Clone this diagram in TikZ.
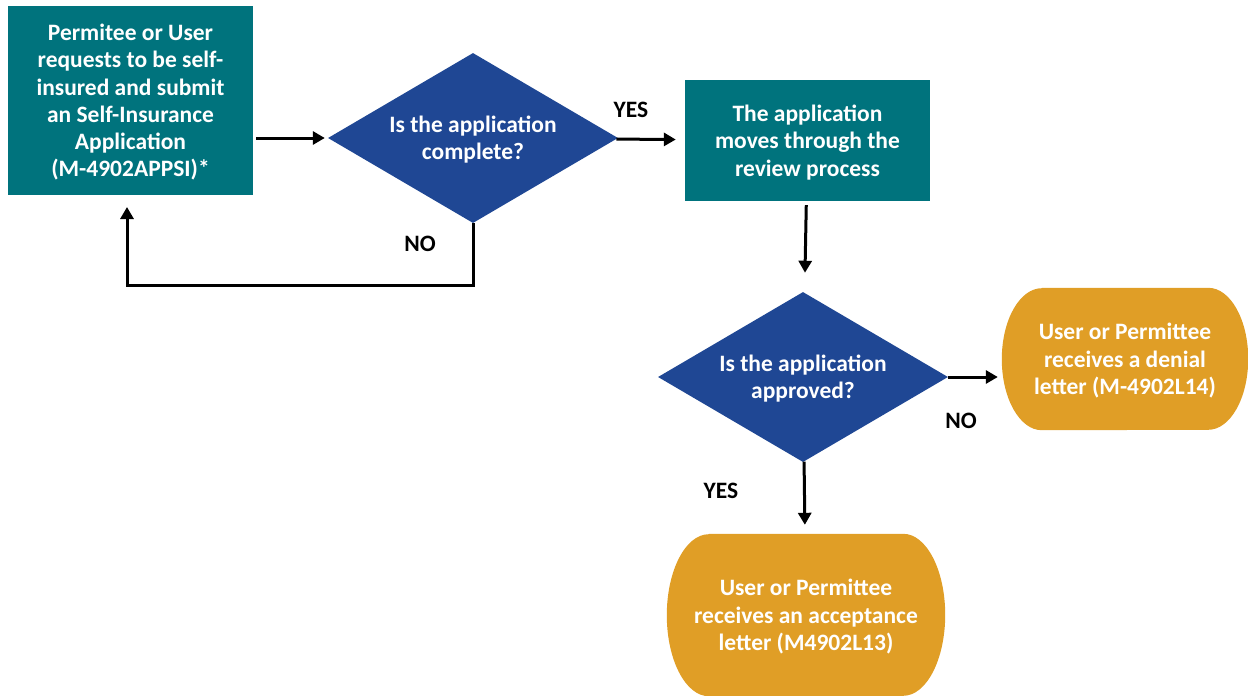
\documentclass[tikz,border=0pt]{standalone}
\usepackage{fontspec}
\setmainfont{Carlito}
\usetikzlibrary{shapes.geometric,arrows.meta,backgrounds}

\definecolor{stepteal}{RGB}{0,115,125}
\definecolor{askblue}{RGB}{31,71,148}
\definecolor{lettergold}{RGB}{224,158,38}

\tikzset{
	boxfont/.style={font=\bfseries\fontsize{23.5}{27.3}\selectfont, text depth=0pt},
	stepbox/.style={boxfont, fill=stepteal, text=white, align=center, inner sep=0pt},
	askbox/.style={boxfont, diamond, aspect=1.7, fill=askblue, text=white, align=center, inner sep=0pt, minimum width=290pt, minimum height=170pt},
	letterbox/.style={boxfont, text=white, align=center, inner sep=0pt},
	link/.style={line width=3pt, -{Triangle[length=12pt,width=13pt]}},
	answer/.style={font=\bfseries\fontsize{23.5}{27}\selectfont}
}

\begin{document}
\begin{tikzpicture}[x=1pt,y=-1pt]
	
	\useasboundingbox (0,0) rectangle (1248,696);
	
	\node [stepbox, minimum width=245pt, minimum height=189pt] (request) at (130.5,100.5) {Permitee or User\\requests to be self-\\insured and submit\\an Self-Insurance\\Application\\(M-4902APPSI)*};
	
	\node [askbox] (complete) at (473,138) {Is the application\\complete?};
	
	\node [stepbox, minimum width=245pt, minimum height=121pt] (review) at (807.5,140.5) {The application\\moves through the\\review process};
	
	\node [askbox] (approved) at (803,377) {Is the application\\approved?};
	
	\node [letterbox, minimum width=246pt, minimum height=142pt] (denial) at (1125,359) {User or Permittee\\receives a denial\\letter (M-4902L14)};
	
	\node [letterbox, minimum width=278pt, minimum height=162pt] (accept) at (806,615) {User or Permittee\\receives an acceptance\\letter (M4902L13)};
	
	\begin{scope}[on background layer]
		\foreach \n/\rx/\ry in {denial/40/71, accept/42/81}
			\fill [lettergold] ([xshift=\rx pt]\n.north west) -- ([xshift=-\rx pt]\n.north east)
				arc [start angle=90, end angle=-90, x radius=\rx pt, y radius=\ry pt]
				-- ([xshift=\rx pt]\n.south west)
				arc [start angle=270, end angle=90, x radius=\rx pt, y radius=\ry pt] -- cycle;
	\end{scope}
	
	\draw [link, shorten <=3pt, shorten >=3pt] (request.east |- complete.west) -- (complete.west);
	
	\draw [link, shorten >=9pt] (complete) -- (review);
	
	\draw [link, shorten <=4pt, shorten >=20pt] (review) -- (approved);
	
	\draw [link, shorten >=4pt] (approved.east) -- (approved.east -| denial.west);
	
	\draw [link, shorten >=9pt] (approved) -- (accept);
	
	\draw [link, shorten >=12pt] (complete.south) |- (127,285) -- (127,195);
	
	\node [answer] (yes1) at (631,110) {YES};
	\node [answer] (no1) at (420,244) {NO};
	\node [answer] (no2) at (961,421) {NO};
	\node [answer] (yes2) at (721,491) {YES};
	
\end{tikzpicture}
\end{document}
